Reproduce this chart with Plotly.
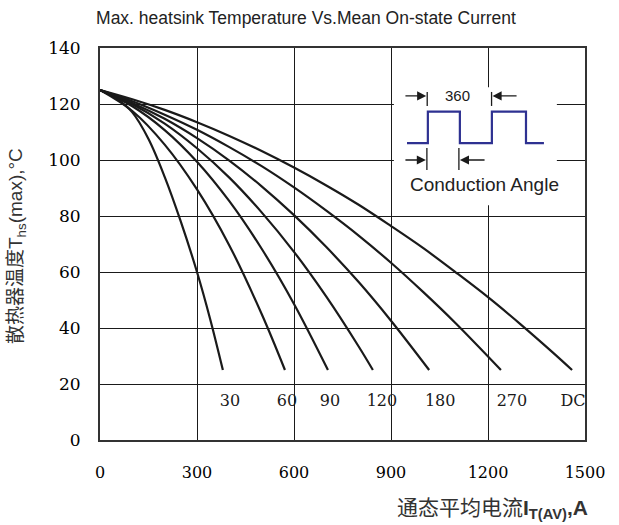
import plotly.graph_objects as go

# Mean on-state current (A) and max. heatsink temperature (°C) for each conduction angle
current_30 = [0, 50, 100, 150, 200, 250, 300, 340, 380]
temp_30 = [125, 122, 117, 107.5, 94, 78, 60, 43.5, 25]

current_60 = [0, 100, 200, 300, 400, 500, 572]
temp_60 = [125, 117.5, 105.5, 89.5, 69.5, 45, 25]

current_90 = [0, 100, 200, 300, 400, 500, 600, 705]
temp_90 = [125, 119.2, 110.7, 99.4, 85.3, 68.3, 48.6, 25]

current_120 = [0, 100, 200, 300, 400, 500, 600, 700, 800, 844]
temp_120 = [125, 119.9, 113, 104.2, 93.7, 81.3, 67.2, 51.2, 33.4, 25]

current_180 = [0, 100, 200, 300, 400, 500, 600, 700, 800, 900, 1018]
temp_180 = [125, 120.4, 114.7, 107.8, 99.8, 90.6, 80.3, 68.9, 56.4, 42.6, 25]

current_270 = [0, 100, 200, 300, 400, 500, 600, 700, 800, 900, 1000, 1100, 1240]
temp_270 = [125, 121, 116.2, 110.8, 104.6, 97.8, 90.2, 81.9, 73, 63.3, 52.8, 41.7, 25]

current_dc = [0, 100, 200, 300, 400, 500, 600, 700, 800, 900, 1000, 1100, 1200, 1300, 1400, 1460]
temp_dc = [125, 121.7, 117.9, 113.5, 108.6, 103.2, 97.3, 90.9, 84, 76.4, 68.5, 59.9, 51, 41.4, 31.3, 25]

curve_names = ["30", "60", "90", "120", "180", "270", "DC"]
curve_currents = [current_30, current_60, current_90, current_120, current_180, current_270, current_dc]
curve_temps = [temp_30, temp_60, temp_90, temp_120, temp_180, temp_270, temp_dc]

# Conduction-angle labels along the bottom of the curves
label_x = [402, 578, 711, 872, 1052, 1274, 1463]
label_y = [13.6, 13.6, 13.6, 13.6, 13.6, 13.6, 13.6]

x_ticks = [0, 300, 600, 900, 1200, 1500]
y_ticks = [0, 20, 40, 60, 80, 100, 120, 140]

INK = "#1a1a1a"
WAVE = "#2e3191"
SERIF = "DejaVu Serif"
SANS = "Liberation Sans, Arial"
MIXED = "Liberation Sans, Noto Sans CJK SC"

fig = go.Figure()

for name, xs, ys in zip(curve_names, curve_currents, curve_temps):
    fig.add_trace(go.Scatter(
        x=xs, y=ys, mode="lines", name=name,
        line=dict(color=INK, width=2.2, shape="spline", smoothing=1.0),
        hoverinfo="skip", showlegend=False,
    ))

fig.add_trace(go.Scatter(
    x=label_x, y=label_y, mode="text", text=curve_names,
    textfont=dict(family=SERIF, size=16, color=INK),
    cliponaxis=True, hoverinfo="skip", showlegend=False,
))

# Conduction angle diagram in the upper right corner
shapes = [
    dict(type="rect", xref="x", yref="y", x0=909, x1=1413, y0=83.8, y1=126,
         fillcolor="white", line=dict(width=0), layer="between"),
    dict(type="path", xref="x", yref="y",
         path="M 949.5,106 L 1014,106 L 1014,117.25 L 1113,117.25 L 1113,106 "
              "L 1212,106 L 1212,117.25 L 1317.5,117.25 L 1317.5,106 L 1373,106",
         line=dict(color=WAVE, width=2.2), layer="above"),
    dict(type="line", xref="x", yref="y", x0=1012, x1=1012, y0=119.3, y1=124.3,
         line=dict(color=INK, width=1.3), layer="above"),
    dict(type="line", xref="x", yref="y", x0=1211, x1=1211, y0=119.3, y1=124.3,
         line=dict(color=INK, width=1.3), layer="above"),
    dict(type="line", xref="x", yref="y", x0=1011, x1=1011, y0=96.4, y1=104.3,
         line=dict(color=INK, width=1.3), layer="above"),
    dict(type="line", xref="x", yref="y", x0=1110, x1=1110, y0=96.4, y1=104.3,
         line=dict(color=INK, width=1.3), layer="above"),
]

annotations = []
for tip_x, tail_x, yy in [(1009, 940, 122.9), (1214, 1293, 122.9),
                          (1008, 940, 100), (1113, 1194, 100)]:
    annotations.append(dict(
        x=tip_x, y=yy, ax=tail_x, ay=yy, xref="x", yref="y", axref="x", ayref="y",
        text="", showarrow=True, arrowhead=2, arrowsize=1.3, arrowwidth=1.4,
        arrowcolor=INK,
    ))

annotations += [
    dict(x=1107, y=123.2, xref="x", yref="y", text="360", showarrow=False,
         xanchor="center", yanchor="middle",
         font=dict(family=SANS, size=15, color=INK)),
    dict(x=1188, y=91.4, xref="x", yref="y", text="Conduction Angle", showarrow=False,
         xanchor="center", yanchor="middle",
         font=dict(family=SANS, size=19, color="#222")),
    # Axis titles (positions in pixels, converted below)
    dict(x=17, y=246, xref="paper", yref="paper", text="散热器温度T<sub>hs</sub>(max),°C",
         textangle=-90, showarrow=False, xanchor="center", yanchor="middle",
         font=dict(family=MIXED, size=19, color="#333")),
    dict(x=590, y=509, xref="paper", yref="paper", xanchor="right", yanchor="middle",
         text="通态平均电流<b>I<sub>T(AV)</sub>,A</b>", showarrow=False,
         font=dict(family=MIXED, size=21, color="#333")),
]

W, H = 619, 525
ML, MR, MT, MB = 100, 34, 48, 85
for a in annotations:
    if a.get("xref") == "paper":
        a["x"] = (a["x"] - ML) / (W - ML - MR)
        a["y"] = (H - MB - a["y"]) / (H - MT - MB)

fig.update_layout(
    width=W, height=H,
    margin=dict(l=ML, r=MR, t=MT, b=MB),
    paper_bgcolor="white", plot_bgcolor="white",
    title=dict(text="Max. heatsink Temperature Vs.Mean On-state Current",
               x=306 / W, xref="container", xanchor="center",
               y=1 - 18 / H, yref="container", yanchor="middle",
               font=dict(family=SANS, size=17.5, color="#222")),
    shapes=shapes, annotations=annotations,
)

fig.update_xaxes(
    range=[0, 1500], tickvals=x_ticks, ticktext=[str(v) for v in x_ticks],
    showgrid=True, gridcolor=INK, gridwidth=1.3,
    showline=True, linecolor="#333", linewidth=2, mirror=True,
    ticks="", ticklabelstandoff=17, zeroline=False,
    tickfont=dict(family=SERIF, size=16, color="#000"),
)
fig.update_yaxes(
    range=[0, 140], tickvals=y_ticks, ticktext=[str(v) for v in y_ticks],
    showgrid=True, gridcolor=INK, gridwidth=1.3,
    showline=True, linecolor="#333", linewidth=2, mirror=True,
    ticks="", ticklabelstandoff=14, zeroline=False,
    tickfont=dict(family=SERIF, size=17, color="#000"),
)

fig.write_html("out.html")
